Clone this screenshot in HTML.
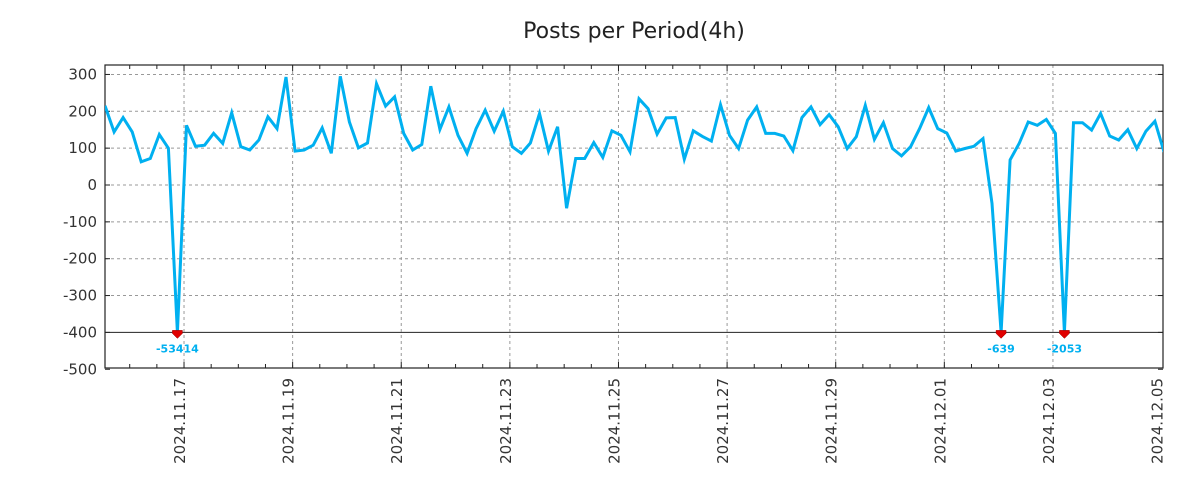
<!DOCTYPE html>
<html><head><meta charset="utf-8"><style>
body{margin:0;background:#fff;}
svg{display:block;font-family:"DejaVu Sans","Liberation Sans",sans-serif;}
</style></head><body>
<svg id="chart" width="1200" height="500" viewBox="0 0 1200 500" xmlns="http://www.w3.org/2000/svg">
<text x="634" y="38" text-anchor="middle" font-size="22" fill="#222">Posts per Period(4h)</text>
<defs><clipPath id="clip"><rect x="105" y="65" width="1058" height="303"/></clipPath></defs>
<g id="grid"></g>
<g id="axes"></g>
<g id="series" clip-path="url(#clip)"></g>
<g id="marks"></g>
</svg>
<script>
const values = [215,144,183,144,63,72,137,100,-53414,162,105,108,140,113,196,104,95,122,185,153,293,92,95,108,155,86,295,171,101,114,275,214,239,140,95,110,268,151,212,135,86,153,203,146,200,104,86,114,194,92,158,-63,72,72,115,75,147,135,90,234,207,138,182,183,70,147,132,119,218,135,99,176,212,140,140,133,93,183,212,164,191,158,99,131,216,124,169,99,79,104,153,210,153,141,92,99,105,126,-50,-639,68,113,171,162,178,140,-2053,169,169,149,194,133,122,150,99,146,173,90];
const yTicks = [300,200,100,0,-100,-200,-300,-400,-500];
const xTickLabels = ["2024.11.17","2024.11.19","2024.11.21","2024.11.23","2024.11.25","2024.11.27","2024.11.29","2024.12.01","2024.12.03","2024.12.05"];
const firstTickIndex = 8.73; // index position of 2024.11.17 00:00
const periodsPerTick = 12;   // 2 days of 4h periods
const clipFloor = -400;

const L=105,R=1163,T=65,B=368;
const step=(1164-105)/117;
function xs(i){return L+i*step;}
function ys(v){return 185-(v)*0.3685;}
const NS="http://www.w3.org/2000/svg";
function mk(tag,attrs,parent){const e=document.createElementNS(NS,tag);for(const k in attrs)e.setAttribute(k,attrs[k]);parent.appendChild(e);return e;}
const grid=document.getElementById('grid'),axes=document.getElementById('axes'),series=document.getElementById('series'),marks=document.getElementById('marks');

yTicks.forEach(v=>{
  const y=ys(v);
  if(v!==-500 && v!==-400){const g=mk('line',{x1:L,x2:R,y1:y,y2:y,stroke:'#999','stroke-dasharray':'3,3','stroke-width':1},grid);
  
  }
  if(v===-400){const g=mk('line',{x1:L,x2:R,y1:y,y2:y,stroke:'#222','stroke-width':1},grid);
  
  }
  mk('line',{x1:L,x2:L+5,y1:y,y2:y,stroke:'#222'},axes);
  mk('line',{x1:R-5,x2:R,y1:y,y2:y,stroke:'#222'},axes);
  const t=mk('text',{x:97,y:y+5,'text-anchor':'end','font-size':15,fill:'#333'},axes);
  t.textContent=v;
  
  
});
for(let k=-3;k<=30;k++){
  const x=xs(firstTickIndex+k*3);
  if(x<L||x>R)continue;
  const major=(k%4===0);
  mk('line',{x1:x,x2:x,y1:T,y2:T+(major?6:4),stroke:'#222'},axes);
  mk('line',{x1:x,x2:x,y1:B,y2:B-(major?6:4),stroke:'#222'},axes);
}
xTickLabels.forEach((lab,k)=>{
  const x=xs(firstTickIndex+k*periodsPerTick);
  if(k<xTickLabels.length-1 || x<R-2){
    const g=mk('line',{x1:x,x2:x,y1:T,y2:B,stroke:'#999','stroke-dasharray':'3,3','stroke-width':1},grid);
    
    
  }
  const t=mk('text',{x:0,y:0,'text-anchor':'end','font-size':15,fill:'#333',transform:`translate(${x+1},378) rotate(-90)`},axes);
  t.textContent=lab;
  
  
});
const frame=mk('rect',{x:L,y:T,width:R-L,height:B-T,fill:'none',stroke:'#222','stroke-width':1.2},axes);



const pts=values.map((v,i)=>xs(i).toFixed(1)+','+ys(Math.max(v,clipFloor)).toFixed(1)).join(' ');
const line=mk('polyline',{points:pts,fill:'none',stroke:'#00b0f0','stroke-width':3,'stroke-linejoin':'miter'},series);



values.forEach((v,i)=>{
  if(v<clipFloor){
    const x=xs(i),y=ys(clipFloor);
    const tri=mk('polygon',{points:`${x-5},${y-2} ${x+5},${y-2} ${x+5},${y+1} ${x},${y+6} ${x-5},${y+1}`,fill:'#e00000',stroke:'#900','stroke-width':0.5},marks);
    
    
    const t=mk('text',{x:x,y:y+20,'text-anchor':'middle','font-size':11,'font-weight':'bold',fill:'#00b0f0'},marks);
    t.textContent=v;
    
    
  }
});
</script>
</body></html>
